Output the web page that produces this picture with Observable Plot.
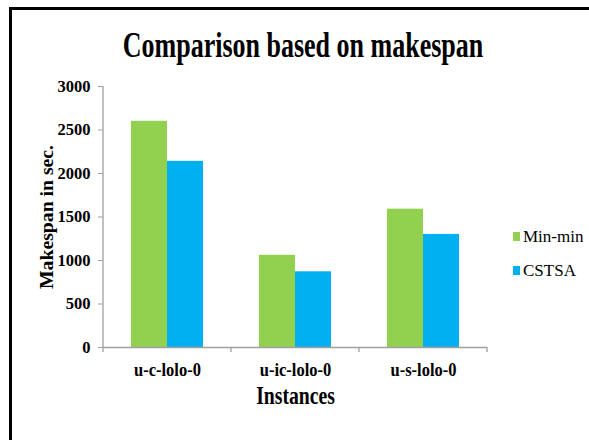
<!DOCTYPE html>
<html><head><meta charset="utf-8">
<script src="https://cdn.jsdelivr.net/npm/d3@7"></script>
<script src="https://cdn.jsdelivr.net/npm/@observablehq/plot@0.6"></script>
<style>
html,body{margin:0;padding:0;background:#fff;}
#wrap{position:relative;width:589px;height:440px;overflow:hidden;font-family:"Liberation Serif","Times New Roman",serif;}
#border{position:absolute;left:9px;top:7px;width:700px;height:600px;border-top:3px solid #000;border-left:3px solid #000;box-sizing:border-box;}
#title{position:absolute;left:303px;top:33px;font-weight:bold;font-size:26px;line-height:26px;white-space:nowrap;transform:translateX(-50%) scaleY(1.4);transform-origin:center;color:#000;}
#chart svg{position:absolute;left:0;top:0;}
.leg-sw{position:absolute;width:7px;height:9px;}
.leg-tx{position:absolute;font-size:17px;line-height:17px;white-space:nowrap;color:#000;font-family:"Liberation Serif","Times New Roman",serif;}
</style></head>
<body><div id="wrap"><div id="border"></div><div id="chart"></div><div id="title"></div><div id="legend"></div></div>
<script>
const titleText = "Comparison based on makespan";
const yLabel = "Makespan in sec.";
const xLabel = "Instances";
const instances = ["u-c-lolo-0", "u-ic-lolo-0", "u-s-lolo-0"];
const series = ["Min-min", "CSTSA"];
const minMin = [2600, 1060, 1590];
const cstsa = [2140, 870, 1300];
const yTicks = [0, 500, 1000, 1500, 2000, 2500, 3000];
const colors = ["#92D050", "#00B0F0"];

const values = [minMin, cstsa];
const data = [];
series.forEach((s, si) => instances.forEach((inst, ii) => data.push({instance: inst, series: s, value: values[si][ii]})));

const axisGray = "#a0a0a0";
const font = '"Liberation Serif", "Times New Roman", serif';

const chart = Plot.plot({
  width: 589,
  height: 440,
  marginTop: 86,
  marginBottom: 93,
  marginLeft: 102,
  marginRight: 102,
  style: {fontFamily: font, background: "transparent", color: "#000", overflow: "visible"},
  fx: {domain: instances, padding: 0},
  x: {domain: series, paddingInner: 0, paddingOuter: 0.73, axis: null},
  y: {domain: [0, 3000]},
  color: {domain: series, range: colors},
  marks: [
    Plot.barY(data, {fx: "instance", x: "series", y: "value", fill: "series"}),
    Plot.ruleY([0], {stroke: axisGray, strokeWidth: 1.3}),
    Plot.axisY({ticks: yTicks, tickSize: 5, tickPadding: 8, stroke: axisGray, fill: "#000",
      fontSize: 16.5, fontWeight: "bold", tickFormat: d3.format("d"),
      label: yLabel, labelAnchor: "center", labelOffset: 64, labelArrow: "none"}),
    Plot.axisFx({anchor: "bottom", tickSize: 0, tickPadding: 14, fontSize: 16.5, fontWeight: "bold", fill: "#000",
      label: xLabel, labelAnchor: "center", labelOffset: 56, labelArrow: "none"})
  ]
});
document.getElementById("chart").appendChild(chart);

// y axis line and boundary ticks on the category axis, placed with Plot's scales
const fx = chart.scale("fx"), y = chart.scale("y");
const svg = d3.select(chart);
const y0 = y.apply(0), yTop = y.apply(3000);
const xs = instances.map(d => fx.apply(d));
xs.push(xs[xs.length - 1] + fx.bandwidth);
const g = svg.append("g").attr("stroke", axisGray).attr("stroke-width", 1.3);
g.append("line").attr("x1", xs[0]).attr("x2", xs[0]).attr("y1", y0).attr("y2", yTop);
g.selectAll(".bt").data(xs).join("line").attr("x1", d => d).attr("x2", d => d).attr("y1", y0).attr("y2", y0 + 5);

// stretch texts like the reference (append a scale to each text's own transform)
function stretch(selector, sx, sy) {
  svg.selectAll(selector).each(function() {
    const t = this.getAttribute("transform") || "";
    this.setAttribute("transform", `${t} scale(${sx},${sy})`);
  });
}
svg.selectAll("text").style("font-family", font);
svg.selectAll('g[aria-label="fx-axis label"] text').style("font-size", "19.7px").style("font-weight", "bold");
svg.selectAll('g[aria-label="y-axis label"] text').style("font-size", "19px").style("font-weight", "bold")
  .attr("textLength", 144).attr("lengthAdjust", "spacingAndGlyphs");
stretch('g[aria-label="fx-axis tick label"] text', 1, 1.2);
stretch('g[aria-label="fx-axis label"] text', 1, 1.3);

document.getElementById("title").textContent = titleText;

const legend = document.getElementById("legend");
series.forEach((s, i) => {
  const sw = document.createElement("div");
  sw.className = "leg-sw";
  sw.style.left = "513px"; sw.style.top = (232 + i * 34) + "px"; sw.style.background = colors[i];
  const tx = document.createElement("div");
  tx.className = "leg-tx";
  tx.style.left = "523px"; tx.style.top = (227.5 + i * 34) + "px";
  tx.textContent = s;
  legend.appendChild(sw); legend.appendChild(tx);
});
</script></body></html>
